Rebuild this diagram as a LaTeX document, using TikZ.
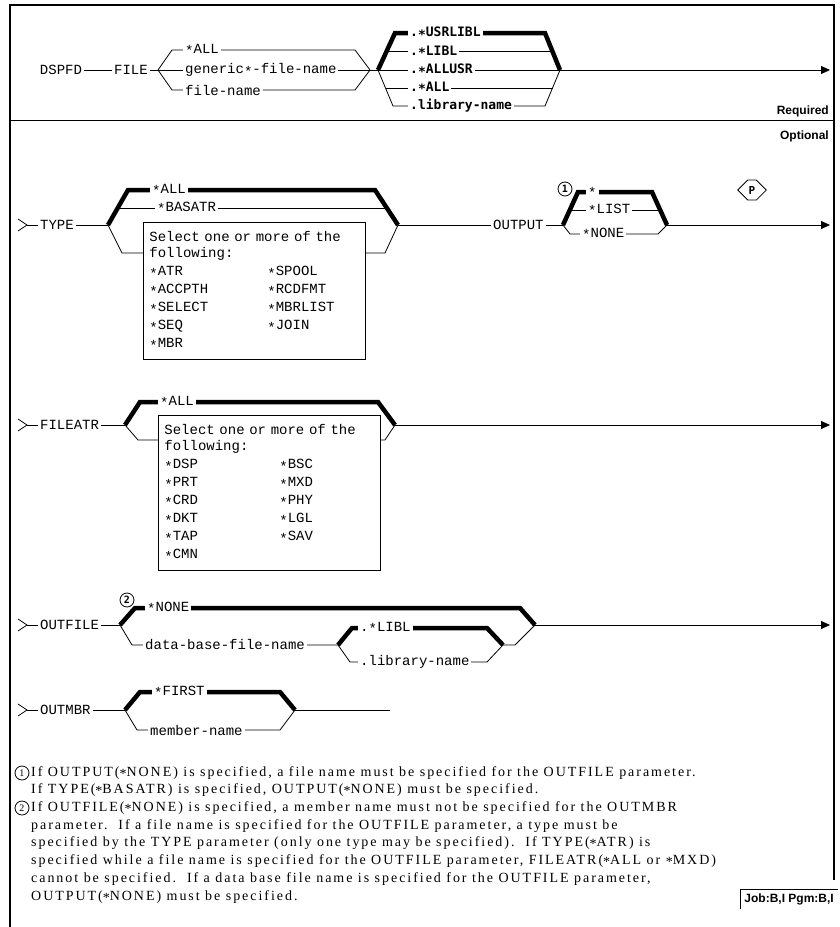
\documentclass[tikz,border=0pt]{standalone}
\usepackage{fontspec}
\setmainfont{Liberation Serif}
\newfontfamily\railfont{Liberation Mono}
\newfontfamily\kwfont{DejaVu Sans Mono}
\newfontfamily\tagfont{Liberation Sans}
\newfontfamily\notefont[LetterSpace=14]{Liberation Serif}
\newcommand\st{\raisebox{-0.35ex}{*}}
\usetikzlibrary{arrows.meta, calc, shapes.symbols}

\begin{document}
\begin{tikzpicture}[x=1pt, y=-1pt,
    rail/.style={line width=0.8pt},
    dflt/.style={line width=4.5pt, line join=miter},
    lbl/.style={font=\railfont\fontsize{14}{18}\selectfont, inner sep=2pt, fill=white, anchor=west},
    blbl/.style={font=\kwfont\bfseries\fontsize{13}{15}\selectfont, inner sep=2pt, fill=white, anchor=west},
    tag/.style={font=\tagfont\bfseries\fontsize{12}{14}\selectfont, inner sep=2pt, fill=white},
    selbox/.style={draw, fill=white, line width=0.8pt, anchor=north west, align=left, text width=210pt,
                   inner xsep=6pt, inner ysep=9pt, font=\railfont\fontsize{14}{18}\selectfont},
    cnum/.style={circle, draw, line width=0.8pt, inner sep=0pt, minimum size=14pt,
                 font=\kwfont\bfseries\fontsize{10}{10}\selectfont},
    note/.style={font=\notefont\fontsize{14}{16}\selectfont, anchor=west, inner sep=0pt},
    endarrow/.style={rail, -{Triangle[length=9pt, width=8pt]}}]

    \useasboundingbox (0,0) rectangle (839,927);

    % frame
    \draw[line width=1.3pt] (10,927) -- (10,5) -- (834,5) -- (834,880);
    \draw[line width=1pt] (10,120) -- (834,120);
    \node[tag, anchor=east] (req) at (831,111) {Required};
    \node[tag, anchor=east] (opt) at (831,136) {Optional};

    % DSPFD FILE
    \coordinate (fa) at (158,70);
    \coordinate (fb) at (370,70);
    \draw[rail] (fa) -- (172,50) -- (355,50) -- (fb);
    \draw[rail] (fa) -- (fb);
    \draw[rail] (fa) -- (172,90) -- (355,90) -- (fb);
    \node[lbl, anchor=center] (dspfd) at (61,70) {DSPFD};
    \node[lbl, anchor=center] (file) at (131,70) {FILE};
    \draw[rail] (dspfd) -- (file) -- (fa);
    \node[lbl] (fall) at (183,50) {\st ALL};
    \node[lbl] (fgen) at (183,70) {generic\st-file-name};
    \node[lbl] (fnam) at (183,90) {file-name};

    % library
    \coordinate (la) at (378,70);
    \coordinate (lb) at (560,70);
    \coordinate (lt1) at (395,33);
    \coordinate (lt2) at (545,33);
    \coordinate (ll1) at (393,106);
    \coordinate (ll2) at (545,106);
    \draw[rail] (fb) -- (la);
    \draw[rail] (la) -- (lb);
    \draw[rail] (la) -- (ll1) -- (ll2) -- (lb);
    \draw[rail] ($(la)!0.49!(lt1)$) -- ($(lb)!0.49!(lt2)$);
    \draw[rail] ($(la)!0.5!(ll1)$) -- ($(lb)!0.5!(ll2)$);
    \draw[dflt] (la) -- (lt1) -- (lt2) -- (lb);
    \node[blbl] (usrlibl) at (408,33) {.\st USRLIBL};
    \node[blbl] (libl) at (408,52) {.\st LIBL};
    \node[blbl] (allusr) at (408,70) {.\st ALLUSR};
    \node[blbl] (liball) at (408,88) {.\st ALL};
    \node[blbl] (libname) at (408,106) {.library-name};
    \draw[endarrow] (lb) -- (830,70);

    % TYPE
    \coordinate (ta) at (108,225);
    \coordinate (tb) at (398,225);
    \draw[rail] (18,219) -- (27,225) -- (18,231);
    \draw[rail] (ta) -- (122,253) -- (385,253) -- (tb);
    \draw[rail] ($(ta)!0.486!(128,190)$) -- ($(tb)!0.486!(375,190)$);
    \draw[dflt] (ta) -- (128,190) -- (375,190) -- (tb);
    \node[lbl] (typekw) at (38,225) {TYPE};
    \draw[rail] (27,225) -- (typekw) -- (ta);
    \node[lbl] (tall) at (150,190) {\st ALL};
    \node[lbl] (tbas) at (155,208) {\st BASATR};
    \node[selbox] (typebox) at (143,222) {Select one or more of the\\[-2pt]
        following:\\
        \makebox[118pt][l]{\st ATR}\st SPOOL\\
        \makebox[118pt][l]{\st ACCPTH}\st RCDFMT\\
        \makebox[118pt][l]{\st SELECT}\st MBRLIST\\
        \makebox[118pt][l]{\st SEQ}\st JOIN\\
        \st MBR};

    % OUTPUT
    \coordinate (oa) at (563,225);
    \coordinate (ob) at (667,225);
    \coordinate (ot1) at (578,192);
    \coordinate (ot2) at (652,192);
    \node[lbl] (outkw) at (491,225) {OUTPUT};
    \draw[rail] (tb) -- (outkw) -- (oa);
    \draw[rail] (oa) -- (570,234) -- (658,234) -- (ob);
    \draw[rail] ($(oa)!0.45!(ot1)$) -- ($(ob)!0.45!(ot2)$);
    \draw[dflt] (oa) -- (ot1) -- (ot2) -- (ob);
    \node[lbl] (ostar) at (586,192) {\st};
    \node[lbl] (olist) at (586,210) {\st LIST};
    \node[lbl] (onone) at (580,234) {\st NONE};
    \node[cnum] (n1) at (565,189) {1};
    \node[draw, rail, signal, signal to=east and west, minimum width=26pt, minimum height=20pt,
          inner sep=1pt, font=\kwfont\bfseries\fontsize{11}{11}\selectfont] (pmark) at (752,190) {P};
    \draw[endarrow] (ob) -- (830,225);

    % FILEATR
    \coordinate (aa) at (125,425);
    \coordinate (ab) at (395,425);
    \draw[rail] (18,419) -- (27,425) -- (18,431);
    \draw[rail] (aa) -- (138,440) -- (385,440) -- (ab);
    \draw[dflt] (aa) -- (140,402) -- (378,402) -- (ab);
    \node[lbl] (atrkw) at (38,425) {FILEATR};
    \draw[rail] (27,425) -- (atrkw) -- (aa);
    \node[lbl] (aall) at (158,402) {\st ALL};
    \node[selbox] (atrbox) at (158,415) {Select one or more of the\\[-2pt]
        following:\\
        \makebox[115pt][l]{\st DSP}\st BSC\\
        \makebox[115pt][l]{\st PRT}\st MXD\\
        \makebox[115pt][l]{\st CRD}\st PHY\\
        \makebox[115pt][l]{\st DKT}\st LGL\\
        \makebox[115pt][l]{\st TAP}\st SAV\\
        \st CMN};
    \draw[endarrow] (ab) -- (830,425);

    % OUTFILE
    \coordinate (ua) at (120,625);
    \coordinate (ub) at (535,625);
    \coordinate (sa) at (338,645);
    \coordinate (sb) at (503,645);
    \draw[rail] (18,619) -- (27,625) -- (18,631);
    \draw[rail] (ua) -- (132,645) -- (sa);
    \draw[rail] (sa) -- (350,662) -- (487,662) -- (sb) -- (515,645) -- (ub);
    \draw[dflt] (ua) -- (135,608) -- (520,608) -- (ub);
    \draw[dflt] (sa) -- (352,628) -- (487,628) -- (sb);
    \node[lbl] (filekw) at (38,625) {OUTFILE};
    \draw[rail] (27,625) -- (filekw) -- (ua);
    \node[cnum] (n2) at (127,600) {2};
    \node[lbl] (unone) at (145,608) {\st NONE};
    \node[lbl] (udbf) at (143,645) {data-base-file-name};
    \node[lbl] (ulibl) at (358,628) {.\st LIBL};
    \node[lbl] (ulib) at (358,662) {.library-name};
    \draw[endarrow] (ub) -- (830,625);

    % OUTMBR
    \coordinate (ma) at (125,710);
    \coordinate (mb) at (295,710);
    \draw[rail] (18,704) -- (27,710) -- (18,716);
    \draw[rail] (ma) -- (137,730) -- (280,730) -- (mb);
    \draw[dflt] (ma) -- (140,692) -- (280,692) -- (mb);
    \node[lbl] (mbrkw) at (38,710) {OUTMBR};
    \draw[rail] (27,710) -- (mbrkw) -- (ma);
    \node[lbl] (mfirst) at (152,692) {\st FIRST};
    \node[lbl] (mname) at (148,730) {member-name};
    \draw[rail] (mb) -- (390,710);

    % notes
    \node[cnum, font=\fontsize{10}{10}\selectfont] (fn1) at (22,773) {1};
    \node[note] (fn1a) at (31,773) {If OUTPUT(\st NONE) is specified, a file name must be specified for the OUTFILE parameter.};
    \node[note] (fn1b) at (31,790) {If TYPE(\st BASATR) is specified, OUTPUT(\st NONE) must be specified.};
    \node[cnum, font=\fontsize{10}{10}\selectfont] (fn2) at (22,808) {2};
    \node[note] (fn2a) at (31,808) {If OUTFILE(\st NONE) is specified, a member name must not be specified for the OUTMBR};
    \node[note] (fn2b) at (31,826) {parameter.\ \ If a file name is specified for the OUTFILE parameter, a type must be};
    \node[note] (fn2c) at (31,843) {specified by the TYPE parameter (only one type may be specified).\ \ If TYPE(\st ATR) is};
    \node[note] (fn2d) at (31,861) {specified while a file name is specified for the OUTFILE parameter, FILEATR(\st ALL or \st MXD)};
    \node[note] (fn2e) at (31,879) {cannot be specified.\ \ If a data base file name is specified for the OUTFILE parameter,};
    \node[note] (fn2f) at (31,897) {OUTPUT(\st NONE) must be specified.};

    \node[tag, anchor=east, inner sep=4pt, fill=none] (jobpgm) at (838,899) {Job:B,I Pgm:B,I};
    \draw[line width=1pt] (jobpgm.south west) -- (jobpgm.north west) -- (jobpgm.north east);
\end{tikzpicture}
\end{document}
